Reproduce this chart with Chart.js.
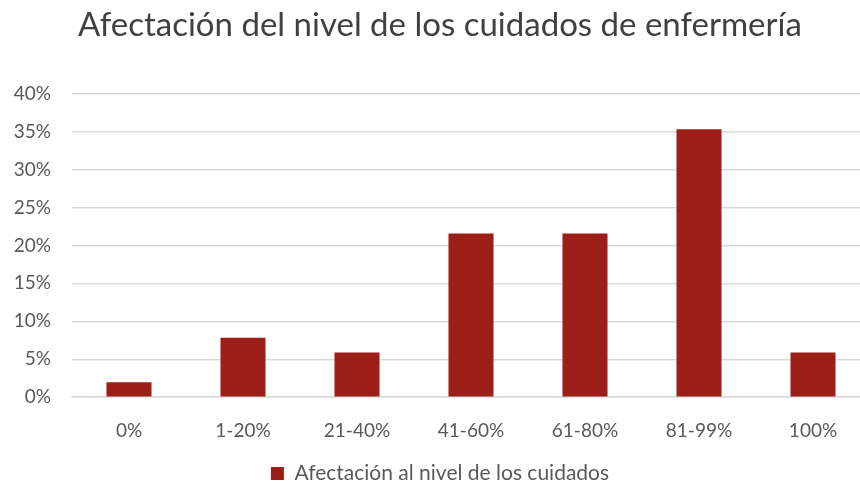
<!DOCTYPE html>
<html>
<head>
<meta charset="utf-8">
<script src="https://cdn.jsdelivr.net/npm/chart.js@4"></script>
<style>
  html, body { margin: 0; padding: 0; background: #fff; overflow: hidden; }
  #wrap { width: 860px; height: 488px; overflow: hidden; }
</style>
</head>
<body>
<div id="wrap"><canvas id="chart" width="880" height="494"></canvas></div>
<script>
// Nivel de afectación (categorías) y porcentaje de respuestas
const categories = ['0%', '1-20%', '21-40%', '41-60%', '61-80%', '81-99%', '100%'];
const percentages = [1.96, 7.84, 5.88, 21.57, 21.57, 35.29, 5.88];
const yTicks = [0, 5, 10, 15, 20, 25, 30, 35, 40];

const barRed = '#9c1e16';
const gridGrey = '#d9d9d9';
const textGrey = '#595959';
const fontFamily = 'Lato, "Open Sans", sans-serif';

new Chart(document.getElementById('chart'), {
  type: 'bar',
  data: {
    labels: categories,
    datasets: [{
      label: 'Afectación al nivel de los cuidados',
      data: percentages,
      backgroundColor: barRed,
      borderWidth: 0,
      categoryPercentage: 1,
      barPercentage: 0.395
    }]
  },
  options: {
    responsive: false,
    animation: false,
    layout: { padding: { left: 10, right: 10, top: 0, bottom: 0 } },
    plugins: {
      title: {
        display: true,
        text: 'Afectación del nivel de los cuidados de enfermería',
        color: '#404040',
        font: { family: fontFamily, size: 33, weight: 'normal' },
        padding: { top: 6, bottom: 48 }
      },
      legend: {
        position: 'bottom',
        labels: {
          color: textGrey,
          font: { family: fontFamily, size: 21 },
          boxWidth: 13,
          boxHeight: 13,
          padding: 7
        }
      },
      tooltip: { enabled: false }
    },
    scales: {
      x: {
        grid: { display: false },
        border: { color: gridGrey, width: 1.5 },
        ticks: {
          color: textGrey,
          font: { family: fontFamily, size: 19 },
          padding: 14
        }
      },
      y: {
        min: 0,
        max: 40,
        afterBuildTicks: axis => { axis.ticks = yTicks.map(v => ({ value: v })); },
        afterFit: axis => { axis.width = 62; },
        grid: { color: gridGrey, lineWidth: 1.5, drawTicks: false },
        border: { display: false },
        ticks: {
          color: textGrey,
          font: { family: fontFamily, size: 19 },
          padding: 21,
          callback: v => v + '%'
        }
      }
    }
  }
});
</script>
</body>
</html>
